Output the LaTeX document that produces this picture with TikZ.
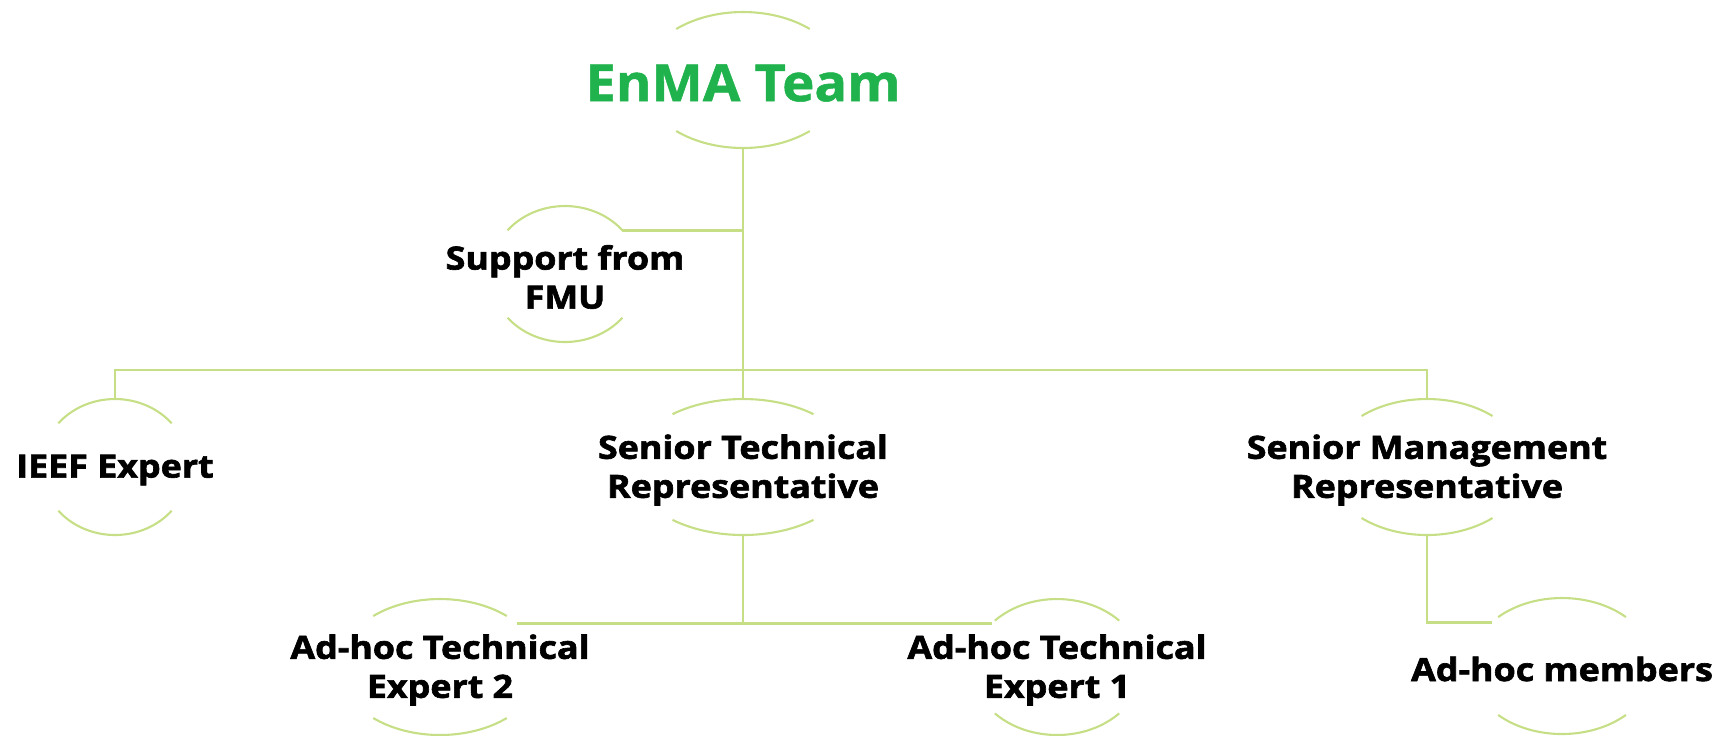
\documentclass[tikz,border=0pt]{standalone}
\usepackage{fontspec}
\setmainfont{Open Sans}
\newfontfamily\memberfont[FakeBold=2, FakeStretch=1.12]{Open Sans}
\newfontfamily\headfont[FakeBold=1, FakeStretch=1.06]{Open Sans}

\definecolor{rimgreen}{RGB}{198,223,134}
\definecolor{teamgreen}{RGB}{32,178,76}

\tikzset{
    member/.style={align=center, inner sep=0pt, yshift=-0.3mm, font=\memberfont\bfseries\fontsize{9.1}{11.1}\selectfont},
    head/.style={inner sep=0pt, yshift=-0.3mm, text=teamgreen, font=\headfont\bfseries\fontsize{14.6}{18}\selectfont},
    rim/.style={draw=rimgreen, line width=0.6pt},
    link/.style={draw=rimgreen, line width=0.75pt},
}

% arcs above and below a member: name, x radius, angle
\newcommand{\ringarcs}[3]{%
    \coordinate (#1-c) at ([yshift=0.3mm]#1.center);
    \coordinate (#1-top) at ([yshift=0.68cm]#1-c);
    \coordinate (#1-bot) at ([yshift=-0.68cm]#1-c);
    \coordinate (#1-ne) at ([shift={(40:#2 and 0.68)}]#1-c);
    \coordinate (#1-nw) at ([shift={(140:#2 and 0.68)}]#1-c);
    \draw[rim] ([shift={(#3:#2 and 0.68)}]#1-c)
        arc[start angle=#3, end angle=180-#3, x radius=#2, y radius=0.68];
    \draw[rim] ([shift={(180+#3:#2 and 0.68)}]#1-c)
        arc[start angle=180+#3, end angle=360-#3, x radius=#2, y radius=0.68];
}

\begin{document}
\begin{tikzpicture}
        \useasboundingbox (0, 0) rectangle (17.33, -7.35);

        % place nodes
        \node[head]   at (7.43, -0.80)  (team) {EnMA Team};
        \node[member] at (5.65, -2.74)  (fmu) {Support from\\FMU};

        \node[member] at (1.15, -4.67)  (ieef) {IEEF Expert};
        \node[member] at (7.43, -4.67)  (stech) {Senior Technical\\Representative};
        \node[member] at (14.27, -4.67) (smgmt) {Senior Management\\Representative};

        \node[member] at (4.40, -6.67)  (exp2) {Ad-hoc Technical\\Expert 2};
        \node[member] at (10.57, -6.67) (exp1) {Ad-hoc Technical\\Expert 1};
        \node[member] at (15.62, -6.66) (members) {Ad-hoc members};

        \ringarcs{team}{1.01}{48.6}
        \ringarcs{fmu}{0.75}{40}
        \ringarcs{ieef}{0.74}{40}
        \ringarcs{stech}{1.12}{51}
        \ringarcs{smgmt}{0.99}{48.6}
        \ringarcs{exp2}{1.01}{48.6}
        \ringarcs{exp1}{0.85}{43}
        \ringarcs{members}{0.92}{46}

        \coordinate (bus) at (7.43, -3.70);

        % draw edges
        \draw[link] (team-bot) -- (stech-top);
        \draw[link] (fmu-ne) -- (fmu-ne -| team-bot);
        \draw[link] (ieef-top) |- (bus) -| (smgmt-top);
        \draw[link] (stech-bot) -- (stech-bot |- exp2-ne);
        \draw[link] (exp2-ne) -- (exp1-nw);
        \draw[link] (smgmt-bot) |- (members-nw);
    \end{tikzpicture}
\end{document}
